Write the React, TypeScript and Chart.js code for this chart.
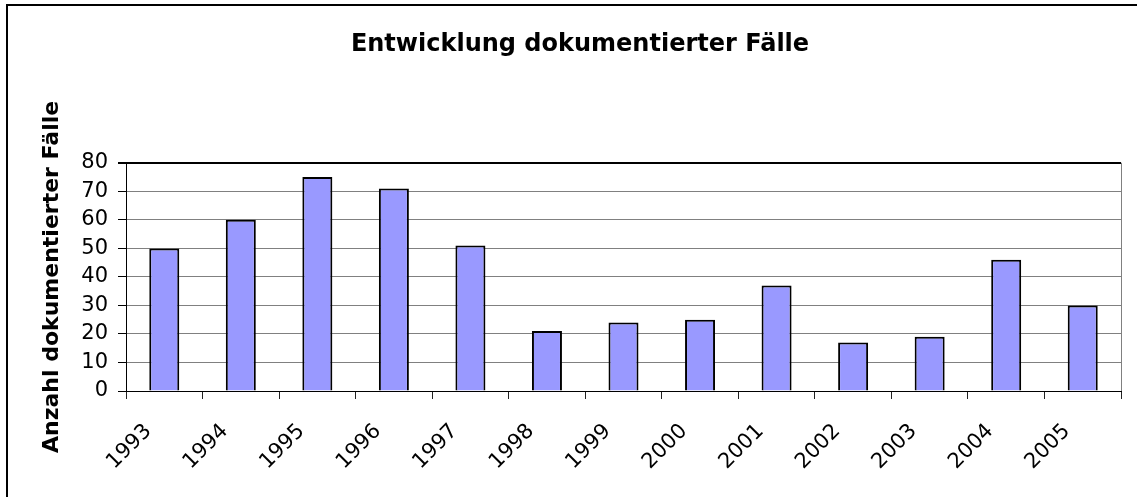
import React, { useEffect, useRef } from 'react';
import { Chart, registerables } from 'chart.js';

Chart.register(...registerables);

const years = ['1993', '1994', '1995', '1996', '1997', '1998', '1999', '2000', '2001', '2002', '2003', '2004', '2005'];
const cases = [50, 60, 75, 71, 51, 21, 24, 25, 37, 17, 19, 46, 30];
const yMin = 0;
const yMax = 80;
const yStep = 10;
const chartTitle = 'Entwicklung dokumentierter Fälle';
const yAxisTitle = 'Anzahl dokumentierter Fälle';

const plotBorder = {
  id: 'plotBorder',
  afterDatasetsDraw(chart: any) {
    const { ctx, chartArea } = chart;
    ctx.save();
    ctx.strokeStyle = '#808080';
    ctx.lineWidth = 1;
    ctx.beginPath();
    ctx.moveTo(chartArea.right + 0.5, chartArea.top);
    ctx.lineTo(chartArea.right + 0.5, chartArea.bottom);
    ctx.stroke();
    ctx.restore();
  },
};

export default function App() {
  const ref = useRef<HTMLCanvasElement | null>(null);

  useEffect(() => {
    if (!ref.current) return;
    const chart = new Chart(ref.current, {
      type: 'bar',
      data: {
        labels: years,
        datasets: [
          {
            data: cases,
            backgroundColor: '#9999FF',
            borderColor: '#000000',
            borderWidth: 2,
            categoryPercentage: 1,
            barPercentage: 0.392,
          },
        ],
      },
      options: {
        animation: false,
        responsive: false,
        devicePixelRatio: 1,
        layout: { padding: { left: 39, right: 16, top: 0, bottom: 0 } },
        plugins: {
          legend: { display: false },
          tooltip: { enabled: false },
          title: {
            display: true,
            text: chartTitle,
            color: '#000',
            font: { family: 'DejaVu Sans', size: 24, weight: 'bold' },
            padding: { top: 30, bottom: 104 },
          },
        },
        scales: {
          x: {
            grid: {
              display: true,
              drawOnChartArea: false,
              offset: true,
              tickLength: 8,
              color: '#222',
              lineWidth: 1,
            },
            border: { color: '#000', width: 1 },
            ticks: {
              color: '#000',
              font: { family: 'DejaVu Sans', size: 21 },
              maxRotation: 45,
              minRotation: 45,
              autoSkip: false,
              padding: 20,
              labelOffset: -16,
            },
            afterFit(scale: any) {
              scale.height = 106;
            },
          },
          y: {
            min: yMin,
            max: yMax,
            ticks: {
              stepSize: yStep,
              color: '#000',
              font: { family: 'DejaVu Sans', size: 21 },
              padding: 10,
            },
            grid: {
              color: (c: any) => (c.tick && c.tick.value === yMax ? '#000' : '#808080'),
              lineWidth: (c: any) => (c.tick && c.tick.value === yMax ? 2 : 1),
              tickColor: '#000',
              tickLength: 8,
            },
            border: { color: '#000', width: 1 },
            title: {
              display: true,
              text: yAxisTitle,
              color: '#000',
              font: { family: 'DejaVu Sans', size: 22, weight: 'bold' },
              padding: { top: 0, bottom: 0 },
            },
            afterFit(scale: any) {
              scale.width = 87;
            },
          },
        },
      },
      plugins: [plotBorder],
    });
    return () => chart.destroy();
  }, []);

  return (
    <div
      style={{
        position: 'absolute',
        left: 0,
        top: 0,
        width: 1137,
        height: 497,
        overflow: 'hidden',
        background: '#fff',
      }}
    >
      <div
        style={{
          position: 'absolute',
          left: 6,
          top: 4,
          width: 2000,
          height: 2000,
          borderLeft: '2px solid #000',
          borderTop: '2px solid #000',
        }}
      />
      <canvas ref={ref} width={1137} height={497} style={{ position: 'absolute', left: 0, top: 0, display: 'block' }} />
    </div>
  );
}
